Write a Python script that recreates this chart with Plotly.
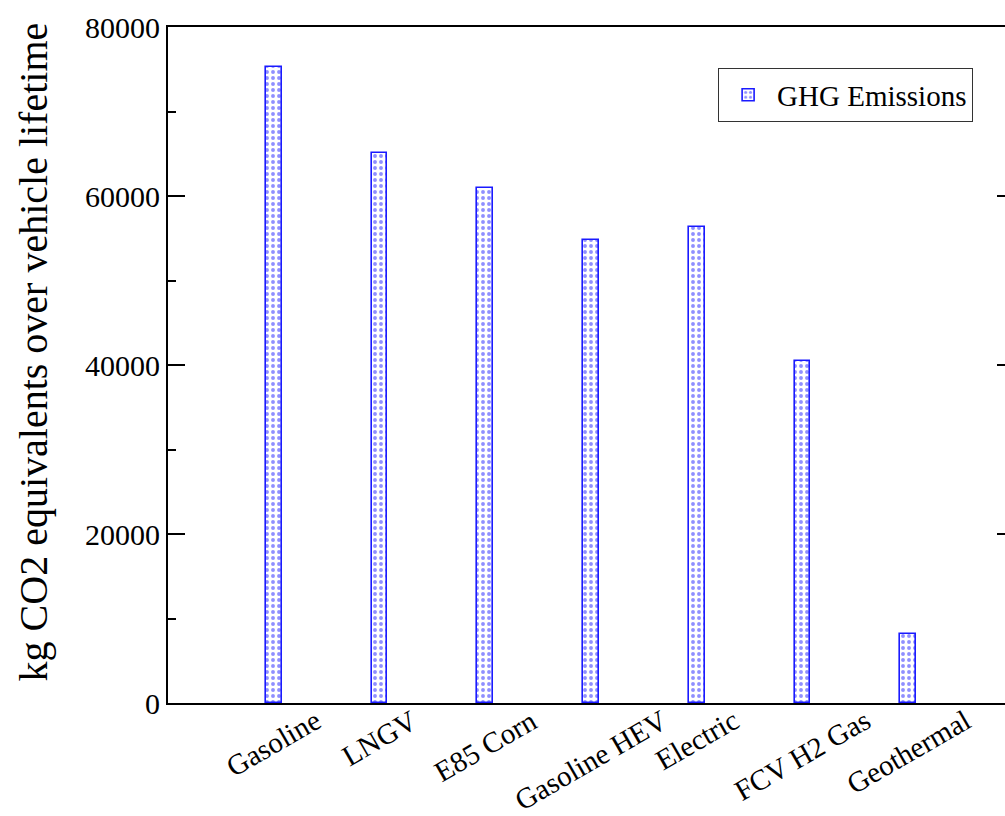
import plotly.graph_objects as go

categories = ["Gasoline", "LNGV", "E85 Corn", "Gasoline HEV", "Electric", "FCV H2 Gas", "Geothermal"]
ghg_values = [75300, 65100, 61000, 54800, 56300, 40500, 8200]
series_name = "GHG Emissions"
y_title = "kg CO2 equivalents over vehicle lifetime"
y_tickvals = [0, 20000, 40000, 60000, 80000]

FONT = "Liberation Serif"

fig = go.Figure()
fig.add_trace(go.Bar(
    x=categories, y=ghg_values, name=series_name, width=0.151,
    marker=dict(color="white",
                line=dict(color="#1a1aff", width=1.6),
                pattern=dict(shape=".", fgcolor="#1f1fff", bgcolor="white", size=6, solidity=0.33)),
    showlegend=True,
))
# invisible trace for right-side mirrored ticks
fig.add_trace(go.Scatter(x=[categories[0]], y=[None], yaxis="y2", showlegend=False, hoverinfo="skip"))

for c in categories:
    fig.add_annotation(x=c, y=0, xref="x", yref="y", text=c, showarrow=False,
                       textangle=-30, xanchor="center", yanchor="top", yshift=2,
                       font=dict(family=FONT, size=29, color="black"))

# y-axis title placed as in the reference
fig.add_annotation(x=-0.161, y=0.519, xref="paper", yref="paper", text=y_title, showarrow=False,
                   textangle=-90, xanchor="center", yanchor="middle",
                   font=dict(family=FONT, size=40, color="black"))

fig.update_layout(
    width=1005, height=816,
    margin=dict(l=168, r=0, t=27, b=113, autoexpand=False),
    paper_bgcolor="white", plot_bgcolor="white",
    font=dict(family=FONT, color="black"),
    bargap=0,
    xaxis=dict(range=[-1.0, 6.915], showline=True, mirror=True, linecolor="black", linewidth=2,
               ticks="", showticklabels=False, showgrid=False, zeroline=False, fixedrange=True,
               automargin=False),
    yaxis=dict(range=[0, 80000], tickvals=y_tickvals, ticktext=[str(v) for v in y_tickvals],
               ticks="inside", ticklen=17, tickwidth=1.5, tickcolor="black",
               minor=dict(dtick=10000, ticks="inside", ticklen=8, tickwidth=1.5, tickcolor="black", showgrid=False),
               showline=True, linecolor="black", linewidth=2, showgrid=False, zeroline=False,
               tickfont=dict(family=FONT, size=30, color="black"), ticklabelstandoff=0,
               automargin=False, fixedrange=True),
    yaxis2=dict(range=[0, 80000], overlaying="y", side="right", anchor="x",
                tickvals=y_tickvals, ticks="inside", ticklen=8, tickwidth=1.5, tickcolor="black",
                showticklabels=False, showline=False, showgrid=False, zeroline=False, automargin=False,
                fixedrange=True),
    legend=dict(x=0.657, y=0.939, xanchor="left", yanchor="top",
                bgcolor="white", bordercolor="#333333", borderwidth=1.2,
                font=dict(family=FONT, size=29, color="black"), itemwidth=48),
)

fig.write_html("out.html", config={"displayModeBar": False},
               post_script="document.body.style.margin='0px';")
